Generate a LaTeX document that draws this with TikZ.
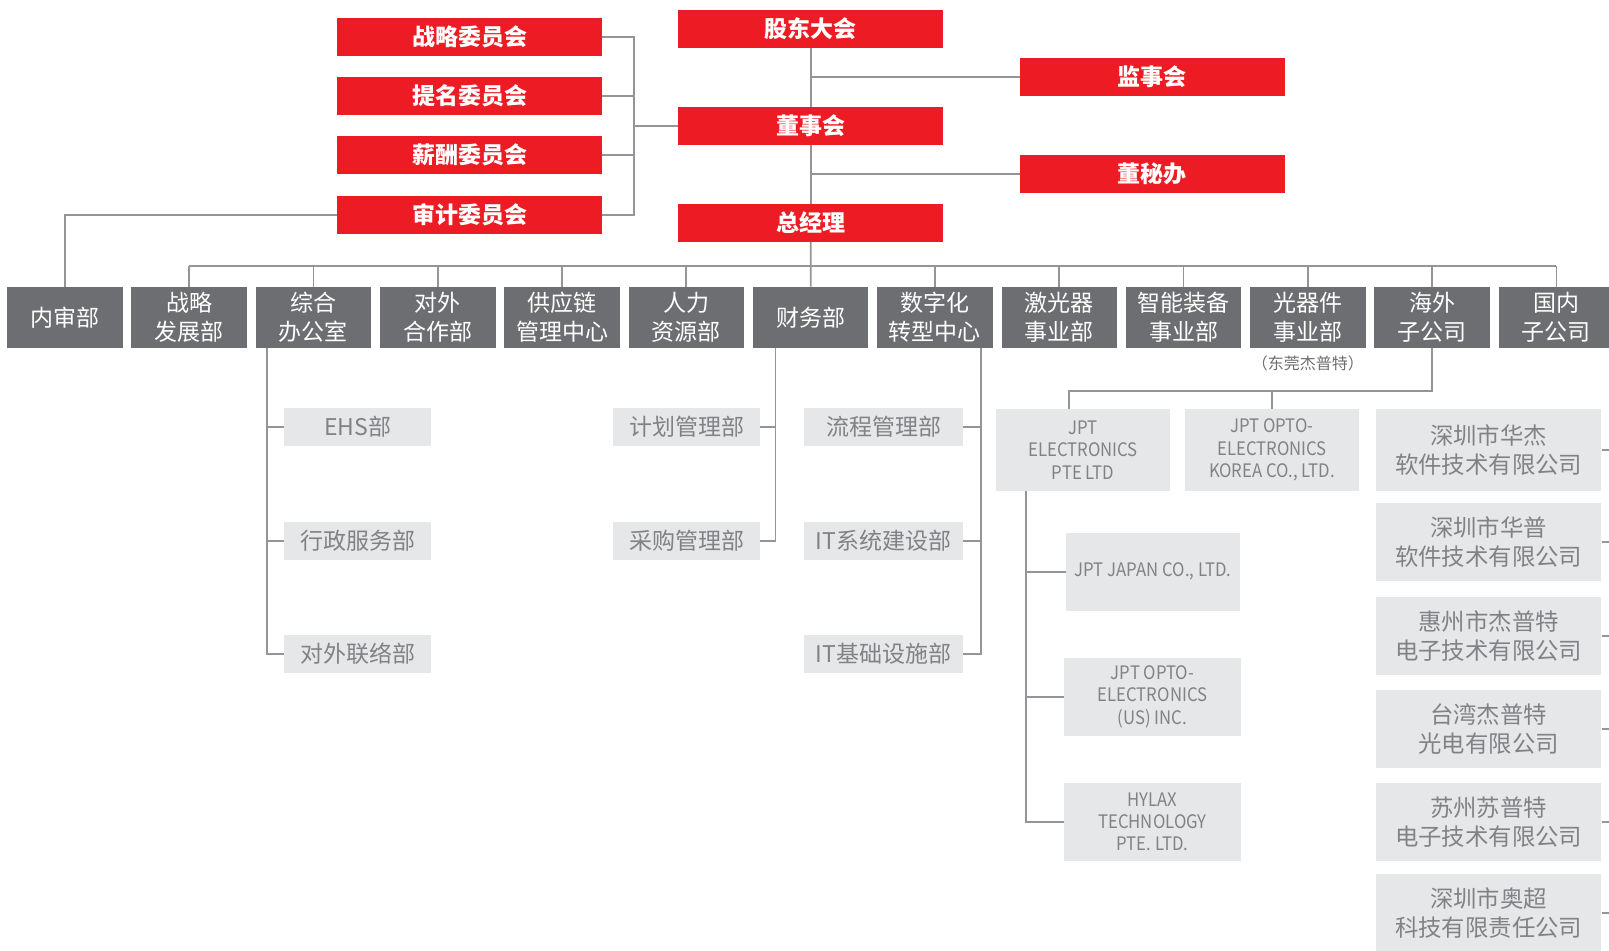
\documentclass[tikz,border=0pt]{standalone}
\usepackage{fontspec}
\setmainfont{Noto Sans CJK SC}
\newfontfamily\engfont[FakeStretch=0.9]{Noto Sans CJK SC}
\usepackage{tikz}
\usetikzlibrary{positioning}
\definecolor{jptred}{HTML}{ED1C24}
\definecolor{jptgray}{HTML}{6D6E71}
\definecolor{jptlight}{HTML}{E6E7E8}
\definecolor{jpttext}{HTML}{808285}
\definecolor{jptline}{HTML}{939598}

\begin{document}
\begin{tikzpicture}
    [
    x=0.5pt, y=-0.5pt,
    redbox/.style={fill=jptred,text=white,inner sep=0pt,minimum width=132.2pt,minimum height=18.85pt,font=\bfseries\fontsize{11.5}{13}\selectfont},
    dept/.style={fill=jptgray,text=white,inner sep=0pt,minimum width=57.75pt,minimum height=30.35pt,align=center,font=\fontsize{11.5}{14.35}\selectfont},
    subbox/.style={fill=jptlight,text=jpttext,inner sep=0pt,minimum width=73.5pt,minimum height=18.85pt,align=center,font=\fontsize{11.5}{14.35}\selectfont},
    engbox/.style={fill=jptlight,text=jpttext,inner sep=0pt,minimum width=87pt,minimum height=39pt,align=center,font=\engfont\fontsize{9.3}{11.2}\selectfont},
    cnbox/.style={fill=jptlight,text=jpttext,inner sep=0pt,minimum width=112.7pt,minimum height=39pt,align=center,font=\fontsize{11.7}{14.35}\selectfont},
    conn/.style={draw=jptline,line width=0.9pt},
    ]
    \useasboundingbox (0,0) rectangle (1609,951);

    % top management
    \node (gddh) at (810.65,28.9) [redbox] {股东大会};
    \node (dsh) at (810.65,125.9) [redbox] {董事会};
    \node (zjl) at (810.65,222.9) [redbox] {总经理};
    \node (jsh) at (1152.4,76.9) [redbox] {监事会};
    \node (dmb) at (1152.4,173.9) [redbox] {董秘办};
    \node (zlwy) at (469.6,37) [redbox] {战略委员会};
    \node (tmwy) at (469.6,96) [redbox] {提名委员会};
    \node (xcwy) at (469.6,155) [redbox] {薪酬委员会};
    \node (sjwy) at (469.6,214.9) [redbox] {审计委员会};

    % departments
    \foreach \i/\nm/\txt in {0/nsb/内审部, 1/zlfz/{战略\\发展部}, 2/zhbg/{综合\\办公室},
        3/dwhz/{对外\\合作部}, 4/gyl/{供应链\\管理中心}, 5/rlzy/{人力\\资源部}, 6/cwb/财务部,
        7/szh/{数字化\\转型中心}, 8/jgq/{激光器\\事业部}, 9/znzb/{智能装备\\事业部},
        10/gqj/{光器件\\事业部}, 11/hwzgs/{海外\\子公司}, 12/gnzgs/{国内\\子公司}}
      \node (\nm) at (64.85+124.3*\i,317.3) [dept] {\txt};
    \node (dgjpt) at (1307.85,363.4) [text=jptgray,font=\fontsize{8}{9}\selectfont] {（东莞杰普特）};

    \coordinate (bus) at (0,265.7);
    \coordinate (cb) at (634.2,125.9);
    \coordinate (edge) at (1609,0);

    \draw [conn] (gddh.south) -- (dsh.north);
    \draw [conn] (dsh.south) -- (zjl.north);
    \draw [conn] (zjl.south) -- (cwb.north);
    \draw [conn] (jsh.west) -- (jsh.west -| gddh.south);
    \draw [conn] (dmb.west) -- (dmb.west -| gddh.south);
    \draw [conn] (zlwy.east) -| (cb) |- (sjwy.east);
    \draw [conn] (tmwy.east) -| (cb);
    \draw [conn] (xcwy.east) -| (cb);
    \draw [conn] (cb) -- (dsh.west);
    \draw [conn] (sjwy.west) -| (nsb.north);
    \draw [conn] (zlfz.north |- bus) -- (gnzgs.north |- bus);
    \foreach \nm in {zlfz,zhbg,dwhz,gyl,rlzy,szh,jgq,znzb,gqj,hwzgs,gnzgs}
      \draw [conn] (\nm.north) -- (\nm.north |- bus);

    % sub departments
    \node (ehs) at (357.6,426.9) [subbox] {EHS部};
    \node (xzfw) at (357.6,540.9) [subbox] {行政服务部};
    \node (dwll) at (357.6,653.9) [subbox] {对外联络部};
    \node (jhgl) at (686.5,426.9) [subbox] {计划管理部};
    \node (cggl) at (686.5,540.9) [subbox] {采购管理部};
    \node (lcgl) at (883.5,427) [subbox,minimum width=79.5pt] {流程管理部};
    \node (itxt) at (883.5,541) [subbox,minimum width=79.5pt] {IT系统建设部};
    \node (itjc) at (883.5,654) [subbox,minimum width=79.5pt] {IT基础设施部};

    \draw [conn] ([xshift=5.8pt]zhbg.south west) |- (dwll.west);
    \draw [conn] ([xshift=5.8pt]zhbg.south west) |- (ehs.west);
    \draw [conn] ([xshift=5.8pt]zhbg.south west) |- (xzfw.west);
    \draw [conn] ([xshift=11.5pt]cwb.south west) |- (cggl.east);
    \draw [conn] ([xshift=11.5pt]cwb.south west) |- (jhgl.east);
    \draw [conn] ([xshift=-6pt]szh.south east) |- (itjc.east);
    \draw [conn] ([xshift=-6pt]szh.south east) |- (lcgl.east);
    \draw [conn] ([xshift=-6pt]szh.south east) |- (itxt.east);

    % overseas subsidiaries
    \node (jptel) at (1083,449.9) [engbox,minimum height=40.9pt] {JPT\\ELECTRONICS\\PTE LTD};
    \node (jptkr) at (1272,449.9) [engbox,minimum height=40.9pt] {JPT OPTO-\\ELECTRONICS\\KOREA CO., LTD.};
    \node (jptjp) at (1153,571.8) [engbox,minimum height=38.75pt] {JPT JAPAN CO., LTD.};
    \node (jptus) at (1152.5,696.8) [engbox,minimum width=88.5pt,minimum height=38.8pt] {JPT OPTO-\\ELECTRONICS\\(US) INC.};
    \node (hylax) at (1152.5,821.8) [engbox,minimum width=88.5pt,minimum height=38.8pt] {HYLAX\\TECHNOLOGY\\PTE. LTD.};

    \coordinate (hwj) at ([xshift=-6.85pt]jptel.north);
    \draw [conn] (hwj) -- ++(0,-17.6) -| (hwzgs.south);
    \draw [conn] (jptkr.north) -- ++(0,-17.6);
    \draw [conn] ([xshift=15.25pt]jptel.south west) |- (hylax.west);
    \draw [conn] ([xshift=15.25pt]jptel.south west) |- (jptjp.west);
    \draw [conn] ([xshift=15.25pt]jptel.south west) |- (jptus.west);

    % domestic subsidiaries
    \node (szhj) at (1488.6,450) [cnbox,minimum height=40.9pt] {深圳市华杰\\软件技术有限公司};
    \node (szhp) at (1488.6,542) [cnbox] {深圳市华普\\软件技术有限公司};
    \node (hzjpt) at (1488.6,636) [cnbox] {惠州市杰普特\\电子技术有限公司};
    \node (twjpt) at (1488.6,729) [cnbox] {台湾杰普特\\光电有限公司};
    \node (szspt) at (1488.6,822) [cnbox] {苏州苏普特\\电子技术有限公司};
    \node (szac) at (1488.6,913) [cnbox] {深圳市奥超\\科技有限责任公司};
    \foreach \nm in {szhj,szhp,hzjpt,twjpt,szspt,szac}
      \draw [conn] (\nm.east) -- (\nm.east -| edge);
  \end{tikzpicture}
\end{document}
